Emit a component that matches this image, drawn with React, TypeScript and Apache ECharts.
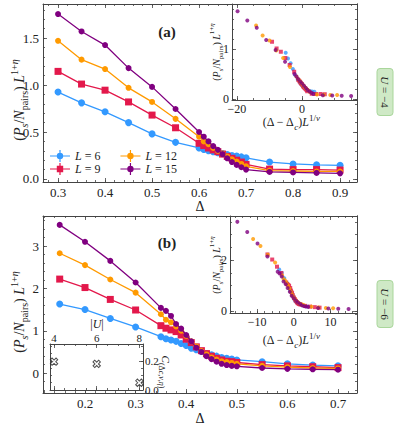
import React, { useEffect, useRef } from 'react';
import * as echarts from 'echarts';

const SERIF = "'Liberation Serif', 'DejaVu Serif', serif";
const AXIS = '#444';
const TEXT = '#222';

const seriesNames = ['L = 6', 'L = 9', 'L = 12', 'L = 15'];
const seriesColors = ['#3399ff', '#e3184b', '#ff9a00', '#800080'];
const seriesSymbols = ['circle', 'rect', 'circle', 'circle'];
const seriesSizes = [7, 7, 6, 6];

// ---- Panel (a): U = -4 ----
const deltaA = [0.3, 0.35, 0.4, 0.45, 0.5, 0.55, 0.6, 0.61, 0.62, 0.63, 0.64, 0.65, 0.66, 0.67, 0.68, 0.69, 0.7, 0.75, 0.8, 0.85, 0.9];
const a_L6 = [0.925, 0.81, 0.715, 0.6, 0.48, 0.39, 0.33, 0.315, 0.3, 0.29, 0.28, 0.27, 0.26, 0.25, 0.245, 0.235, 0.225, 0.18, 0.16, 0.15, 0.145];
const a_L9 = [1.145, 1.01, 0.945, 0.82, 0.68, 0.545, 0.38, 0.355, 0.33, 0.31, 0.29, 0.265, 0.24, 0.22, 0.2, 0.18, 0.155, 0.105, 0.1, 0.1, 0.095];
const a_L12 = [1.47, 1.27, 1.17, 0.97, 0.82, 0.64, 0.45, 0.4, 0.37, 0.33, 0.3, 0.27, 0.24, 0.21, 0.185, 0.16, 0.135, 0.09, 0.085, 0.08, 0.08];
const a_L15 = [1.755, 1.57, 1.425, 1.18, 0.98, 0.745, 0.5, 0.45, 0.4, 0.35, 0.31, 0.265, 0.22, 0.18, 0.15, 0.125, 0.1, 0.075, 0.07, 0.065, 0.06];
// inset (a): rescaled abscissa (Δ − Δc) L^{1/ν}
const sA_L6 = [-5.0, -4.3, -3.5, -2.8, -2.1, -1.3, -0.6, -0.4, -0.3, -0.1, 0.0, 0.1, 0.3, 0.4, 0.6, 0.7, 0.9, 1.6, 2.4, 3.1, 3.8];
const sA_L9 = [-9.2, -7.8, -6.5, -5.1, -3.8, -2.4, -1.1, -0.8, -0.5, -0.3, 0.0, 0.3, 0.5, 0.8, 1.1, 1.4, 1.6, 3.0, 4.3, 5.7, 7.0];
const sA_L12 = [-14.1, -12.1, -10.0, -7.9, -5.8, -3.7, -1.7, -1.2, -0.8, -0.4, 0.0, 0.4, 0.8, 1.2, 1.7, 2.1, 2.5, 4.6, 6.7, 8.7, 10.8];
const sA_L15 = [-19.8, -16.8, -13.9, -11.0, -8.1, -5.2, -2.3, -1.7, -1.2, -0.6, 0.0, 0.6, 1.2, 1.7, 2.3, 2.9, 3.5, 6.4, 9.3, 12.2, 15.1];

// ---- Panel (b): U = -6 ----
const deltaB = [0.15, 0.2, 0.25, 0.3, 0.35, 0.36, 0.37, 0.38, 0.39, 0.4, 0.41, 0.42, 0.43, 0.44, 0.45, 0.46, 0.47, 0.48, 0.49, 0.5, 0.55, 0.6, 0.65, 0.7];
const b_L6 = [1.63, 1.5, 1.29, 1.09, 0.86, 0.81, 0.78, 0.75, 0.7, 0.65, 0.59, 0.55, 0.51, 0.46, 0.43, 0.4, 0.37, 0.35, 0.33, 0.31, 0.27, 0.22, 0.19, 0.17];
const b_L9 = [2.22, 2.02, 1.74, 1.49, 1.12, 1.06, 1.02, 0.98, 0.9, 0.8, 0.72, 0.62, 0.53, 0.46, 0.4, 0.35, 0.31, 0.28, 0.27, 0.25, 0.2, 0.17, 0.15, 0.13];
const b_L12 = [2.83, 2.55, 2.21, 1.9, 1.39, 1.26, 1.2, 1.1, 1.0, 0.88, 0.75, 0.63, 0.52, 0.44, 0.37, 0.32, 0.28, 0.26, 0.24, 0.22, 0.17, 0.14, 0.12, 0.11];
const b_L15 = [3.5, 3.1, 2.65, 2.14, 1.54, 1.47, 1.35, 1.16, 1.05, 0.9, 0.75, 0.6, 0.5, 0.4, 0.33, 0.27, 0.22, 0.19, 0.17, 0.16, 0.12, 0.1, 0.09, 0.08];
const sB_L6 = [-4.0, -3.3, -2.6, -1.8, -1.1, -1.0, -0.9, -0.7, -0.6, -0.4, -0.3, -0.1, 0.0, 0.1, 0.3, 0.4, 0.6, 0.7, 0.9, 1.0, 1.7, 2.4, 3.1, 3.8];
const sB_L9 = [-7.2, -5.9, -4.6, -3.4, -2.1, -1.8, -1.5, -1.3, -1.0, -0.8, -0.5, -0.3, 0.0, 0.3, 0.5, 0.8, 1.0, 1.3, 1.5, 1.8, 3.1, 4.4, 5.7, 7.0];
const sB_L12 = [-11.1, -9.1, -7.1, -5.1, -3.2, -2.8, -2.4, -2.0, -1.6, -1.2, -0.8, -0.4, 0.0, 0.4, 0.8, 1.2, 1.6, 2.0, 2.4, 2.8, 4.8, 6.7, 8.7, 10.7];
const sB_L15 = [-15.4, -12.7, -9.9, -7.2, -4.4, -3.9, -3.3, -2.8, -2.2, -1.7, -1.1, -0.6, 0.0, 0.6, 1.1, 1.7, 2.2, 2.8, 3.3, 3.9, 6.6, 9.4, 12.1, 14.9];

// small inset in (b)
const absU = [4, 6, 8];
const cValues = [0.195, 0.18, 0.05];

// tick values
const ticksA_x = [0.3, 0.4, 0.5, 0.6, 0.7, 0.8, 0.9];
const ticksA_y = [0, 0.5, 1.0, 1.5];
const ticksAi_x = [-20, 0];
const ticksAi_y = [0, 1];
const ticksB_x = [0.2, 0.3, 0.4, 0.5, 0.6, 0.7];
const ticksB_y = [0, 1, 2, 3];
const ticksBi_x = [-10, 0, 10];
const ticksBi_y = [0, 2];
const ticksU_x = [4, 6, 8];
const ticksU_y = [0, 0.2];

const fmt1 = (v: number) => v.toFixed(1);
const fmtInt = (v: number) => (v < 0 ? '\u2212' : '') + Math.abs(Math.round(v));

function minorVals(r: number[], step: number) {
  const out: number[] = [];
  for (let k = Math.ceil(r[0] / step); k <= Math.floor(r[1] / step); k++) out.push(+(k * step).toFixed(6));
  return out;
}

function buildAxes(c: any, xAxes: any[], yAxes: any[]) {
  const xIdx = xAxes.length;
  const yIdx = yAxes.length;
  const xMinor = minorVals(c.xr, c.xMinor);
  const yMinor = minorVals(c.yr, c.yMinor);
  const oppX = c.xPos === 'bottom' ? 'top' : 'bottom';
  const oppY = c.yPos === 'left' ? 'right' : 'left';
  const mk = (pos: string, r: number[], ticks: number[], len: number, line: boolean, f: any, margin: number) => ({
    type: 'value', gridIndex: c.grid, position: pos, min: r[0], max: r[1], z: c.z,
    axisLine: { show: line, onZero: false, lineStyle: { color: AXIS, width: 1 } },
    axisTick: { show: true, inside: true, length: len, customValues: ticks, lineStyle: { color: AXIS, width: 0.8 } },
    axisLabel: f
      ? { show: true, customValues: ticks, formatter: f, margin, fontFamily: SERIF, fontSize: c.fontSize, color: TEXT }
      : { show: false },
    splitLine: { show: false },
  });
  xAxes.push(
    mk(c.xPos, c.xr, c.xMajor, 4, true, c.xFmt, c.xMargin),
    mk(c.xPos, c.xr, xMinor, 2, false, null, 0),
    mk(oppX, c.xr, c.xMajor, 4, true, null, 0),
    mk(oppX, c.xr, xMinor, 2, false, null, 0)
  );
  yAxes.push(
    mk(c.yPos, c.yr, c.yMajor, 4, true, c.yFmt, c.yMargin),
    mk(c.yPos, c.yr, yMinor, 2, false, null, 0),
    mk(oppY, c.yr, c.yMajor, 4, true, null, 0),
    mk(oppY, c.yr, yMinor, 2, false, null, 0)
  );
  return { xIdx, yIdx };
}

function rich(size: number) {
  const lh = size + 6;
  const s = Math.round(size * 0.72);
  const base = { fontFamily: SERIF, fill: TEXT };
  return {
    n: { ...base, fontSize: size, lineHeight: lh },
    i: { ...base, fontSize: size, lineHeight: lh, fontStyle: 'italic' },
    b: { ...base, fontSize: size, lineHeight: lh, fontWeight: 'bold' },
    sub: { ...base, fontSize: s, lineHeight: s + 1, verticalAlign: 'bottom' },
    subi: { ...base, fontSize: s, lineHeight: s + 1, verticalAlign: 'bottom', fontStyle: 'italic' },
    sup: { ...base, fontSize: s, lineHeight: s + 1, verticalAlign: 'top' },
    supi: { ...base, fontSize: s, lineHeight: s + 1, verticalAlign: 'top', fontStyle: 'italic' },
  };
}

const Y_LABEL = '{n|(}{i|P}{subi|s}{n|/}{i|N}{sub|pairs}{n|) }{i|L}{sup|1+}{supi|η}';
const X_INSET_LABEL = '{n|(Δ − Δ}{subi|c}{n|)}{i|L}{sup|1/}{supi|ν}';

const ICON_C = 'path://M0,5.4H20V6.6H0Z M9.4,0H10.6V12H9.4Z M13.2,6A3.2,3.2 0 1 1 6.8,6A3.2,3.2 0 1 1 13.2,6Z';
const ICON_S = 'path://M0,5.4H20V6.6H0Z M9.4,0H10.6V12H9.4Z M6.8,2.8H13.2V9.2H6.8Z';
const CROSS = 'path://M3.5,0H6.5V3.5H10V6.5H6.5V10H3.5V6.5H0V3.5H3.5Z';

function buildOption() {
  const xAxes: any[] = [];
  const yAxes: any[] = [];
  const grids = [
    { left: 43, top: 4, width: 314, height: 178 },
    { left: 232, top: 4, width: 125, height: 96, show: true, backgroundColor: '#fff', borderWidth: 0, z: 3 },
    { left: 43, top: 216, width: 314, height: 177 },
    { left: 230, top: 216, width: 127, height: 97, show: true, backgroundColor: '#fff', borderWidth: 0, z: 3 },
    { left: 50, top: 344, width: 93, height: 46, show: true, backgroundColor: '#fff', borderWidth: 0, z: 3 },
  ];
  const gA = buildAxes({ grid: 0, xr: [0.268, 0.936], yr: [-0.032, 1.862], xMajor: ticksA_x, yMajor: ticksA_y, xMinor: 0.02, yMinor: 0.1, xFmt: fmt1, yFmt: fmt1, xPos: 'bottom', yPos: 'left', z: 0, fontSize: 13, xMargin: 4, yMargin: 4 }, xAxes, yAxes);
  const gAi = buildAxes({ grid: 1, xr: [-21.5, 16.9], yr: [-0.02, 1.9], xMajor: ticksAi_x, yMajor: ticksAi_y, xMinor: 5, yMinor: 0.2, xFmt: fmtInt, yFmt: fmtInt, xPos: 'bottom', yPos: 'left', z: 4, fontSize: 12, xMargin: 3, yMargin: 3 }, xAxes, yAxes);
  const gB = buildAxes({ grid: 2, xr: [0.117, 0.7375], yr: [-0.47, 3.71], xMajor: ticksB_x, yMajor: ticksB_y, xMinor: 0.02, yMinor: 0.2, xFmt: fmt1, yFmt: fmtInt, xPos: 'bottom', yPos: 'left', z: 0, fontSize: 13, xMargin: 4, yMargin: 4 }, xAxes, yAxes);
  const gBi = buildAxes({ grid: 3, xr: [-17.4, 17.2], yr: [-0.08, 3.73], xMajor: ticksBi_x, yMajor: ticksBi_y, xMinor: 2, yMinor: 0.5, xFmt: fmtInt, yFmt: fmtInt, xPos: 'bottom', yPos: 'left', z: 4, fontSize: 12, xMargin: 3, yMargin: 3 }, xAxes, yAxes);
  const gU = buildAxes({ grid: 4, xr: [3.81, 8.17], yr: [0, 0.317], xMajor: ticksU_x, yMajor: ticksU_y, xMinor: 0.5, yMinor: 0.05, xFmt: fmtInt, yFmt: fmt1, xPos: 'top', yPos: 'right', z: 4, fontSize: 11, xMargin: 1, yMargin: 2 }, xAxes, yAxes);

  const series: any[] = [];
  const mainA = [a_L6, a_L9, a_L12, a_L15];
  const insA = [sA_L6, sA_L9, sA_L12, sA_L15];
  const mainB = [b_L6, b_L9, b_L12, b_L15];
  const insB = [sB_L6, sB_L9, sB_L12, sB_L15];
  const addMain = (g: any, xs: number[], ys: number[], k: number) =>
    series.push({
      type: 'line', name: seriesNames[k], xAxisIndex: g.xIdx, yAxisIndex: g.yIdx,
      data: xs.map((x, i) => [x, ys[i]]),
      symbol: seriesSymbols[k], symbolSize: seriesSizes[k], showSymbol: true,
      lineStyle: { color: seriesColors[k], width: 1.3 }, itemStyle: { color: seriesColors[k] },
      z: 2 + k * 0.1, silent: true,
    });
  const addInset = (g: any, xs: number[], ys: number[], k: number) =>
    series.push({
      type: 'scatter', name: seriesNames[k], xAxisIndex: g.xIdx, yAxisIndex: g.yIdx,
      data: xs.map((x, i) => [x, ys[i]]),
      symbol: k === 1 ? 'rect' : 'circle', symbolSize: 4,
      itemStyle: { color: seriesColors[k] }, z: 5 + k * 0.1, silent: true,
    });
  for (let k = 0; k < 4; k++) {
    addMain(gA, deltaA, mainA[k], k);
    addInset(gAi, insA[k], mainA[k], k);
    addMain(gB, deltaB, mainB[k], k);
    addInset(gBi, insB[k], mainB[k], k);
  }
  series.push({
    type: 'scatter', name: 'C', xAxisIndex: gU.xIdx, yAxisIndex: gU.yIdx,
    data: absU.map((u, i) => [u, cValues[i]]),
    symbol: CROSS, symbolSize: 8, symbolRotate: 45,
    itemStyle: { color: '#fff', borderColor: '#222', borderWidth: 1 }, z: 5, silent: true,
  });

  const legendText = {
    fontFamily: SERIF, fontSize: 12, color: TEXT,
    rich: { it: { fontFamily: SERIF, fontSize: 12, fontStyle: 'italic', color: TEXT } },
  };
  const legendFmt = (name: string) => '{it|L}' + name.slice(1);
  const legend = [
    { left: 50, top: 150, padding: 0, itemWidth: 20, itemHeight: 12, itemGap: 20, selectedMode: false, formatter: legendFmt, textStyle: legendText,
      data: [{ name: 'L = 6', icon: ICON_C }, { name: 'L = 12', icon: ICON_C }] },
    { left: 50, top: 163, padding: 0, itemWidth: 20, itemHeight: 12, itemGap: 20, selectedMode: false, formatter: legendFmt, textStyle: legendText,
      data: [{ name: 'L = 9', icon: ICON_S }, { name: 'L = 15', icon: ICON_C }] },
  ];

  const R14 = rich(14);
  const R12 = rich(12);
  const R10 = rich(10);
  const txt = (x: number, y: number, text: string, r: any, rotation = 0, z = 10) => ({
    type: 'text', x, y, rotation, z,
    style: { text, rich: r, align: 'center', verticalAlign: 'middle', fill: TEXT },
  });
  const plain = (x: number, y: number, text: string, size: number) => ({
    type: 'text', x, y, z: 10,
    style: { text, fontFamily: SERIF, fontSize: size, align: 'center', verticalAlign: 'middle', fill: TEXT },
  });
  const uBox = (cy: number, label: string) => ({
    type: 'group', z: 10,
    children: [
      { type: 'rect', shape: { x: 377, y: cy - 23.5, width: 16, height: 47, r: 3 }, style: { fill: '#cfe9c6', stroke: '#a9d69b', lineWidth: 1 } },
      txt(385, cy, '{i|U}{n| = ' + label + '}', rich(11), -Math.PI / 2),
    ],
  });

  const graphic = [
    txt(19, 100, Y_LABEL, R14, Math.PI / 2),
    txt(19, 312, Y_LABEL, R14, Math.PI / 2),
    plain(200, 206, 'Δ', 14),
    plain(200, 418, 'Δ', 14),
    txt(216, 52, Y_LABEL, R10, Math.PI / 2),
    txt(216, 265, Y_LABEL, R10, Math.PI / 2),
    txt(291, 122, X_INSET_LABEL, R12),
    txt(291, 340, X_INSET_LABEL, R12),
    txt(167, 32, '{b|(a)}', rich(15)),
    txt(167, 243, '{b|(b)}', rich(15)),
    txt(97, 324, '{n||}{i|U}{n||}', R12),
    txt(166, 372, '{i|C}{sub|(Δ}{subi|c}{sub|,}{subi|ν}{sub|,}{subi|η}{sub|)}', rich(11), -Math.PI / 2),
    uBox(92, '\u22124'),
    uBox(304, '\u22126'),
  ];

  return {
    animation: false,
    backgroundColor: '#fff',
    grid: grids,
    xAxis: xAxes,
    yAxis: yAxes,
    legend,
    series,
    graphic,
  };
}

export default function App() {
  const ref = useRef<HTMLDivElement>(null);
  useEffect(() => {
    const chart = echarts.init(ref.current!, null, { renderer: 'svg' });
    chart.setOption(buildOption() as any);
    return () => chart.dispose();
  }, []);
  return (
    <div
      ref={ref}
      style={{ position: 'fixed', left: 0, top: 0, width: 395, height: 430, background: '#fff' }}
    />
  );
}
